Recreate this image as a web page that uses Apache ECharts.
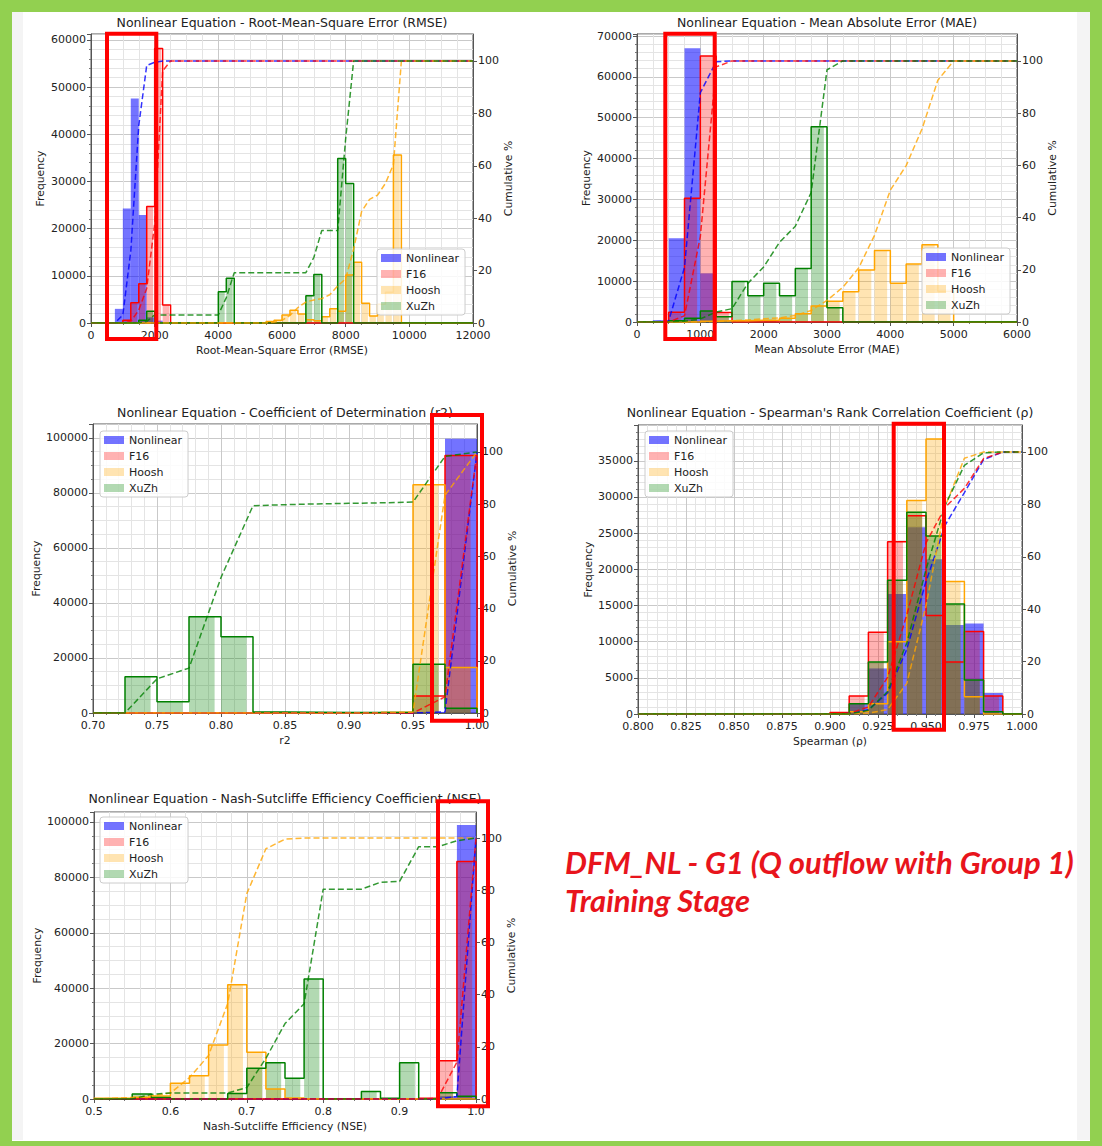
<!DOCTYPE html>
<html>
<head>
<meta charset="utf-8">
<script src="https://cdn.jsdelivr.net/npm/echarts@6/dist/echarts.min.js"></script>
<style>
html,body{margin:0;padding:0;background:#fff;}
#chart{width:1102px;height:1146px;}
</style>
</head>
<body>
<div id="chart"></div>
<script>
// ---------- Histogram bins: [bin left edge, count] ----------
// RMSE (bin width 250)
const rmseBinWidth = 250;
const rmseNonlinear = [[750,3000],[1000,24300],[1250,47600],[1500,22900],[1750,1200],[2000,500]];
const rmseF16 = [[1000,600],[1250,4300],[1500,8300],[1750,24700],[2000,58200],[2250,3800]];
const rmseHoosh = [[5500,300],[5750,600],[6000,1700],[6250,2700],[6500,1900],[6750,700],[7000,500],[7250,1300],[7500,3000],[7750,2500],[8000,10200],[8250,12900],[8500,4200],[8750,1500],[9000,4000],[9250,6500],[9500,35600]];
const rmseXuZh = [[1500,600],[1750,2500],[4000,6600],[4250,9500],[6750,5800],[7000,10300],[7750,34900],[8000,29600]];
// cumulative % at bin edges
const rmseNonlinearCum = [[0,0],[750,0],[1000,3],[1250,27.4],[1500,75.3],[1750,98.3],[2000,99.5],[2250,100],[12000,100]];
const rmseF16Cum = [[0,0],[1000,0],[1250,0.6],[1500,4.9],[1750,13.2],[2000,37.9],[2250,96.2],[2500,100],[12000,100]];
const rmseHooshCum = [[0,0],[5500,0],[5750,0.3],[6000,1],[6250,2.9],[6500,5.9],[6750,8],[7000,8.8],[7250,9.3],[7500,10.8],[7750,14.1],[8000,16.9],[8250,28.2],[8500,42.5],[8750,47.2],[9000,48.8],[9250,53.3],[9500,60.5],[9750,100],[12000,100]];
const rmseXuZhCum = [[0,0],[1500,0],[1750,0.6],[2000,3.1],[4000,3.1],[4250,9.7],[4500,19.2],[6750,19.2],[7000,25],[7250,35.3],[7750,35.3],[8000,70.3],[8250,100],[12000,100]];

// MAE (bin width 250)
const maeBinWidth = 250;
const maeNonlinear = [[250,450],[500,20500],[750,67000],[1000,11900],[1250,300]];
const maeF16 = [[500,2400],[750,30300],[1000,65100],[1250,2300]];
const maeHoosh = [[1000,200],[1250,300],[1500,300],[1750,400],[2000,400],[2250,900],[2500,2000],[2750,3900],[3000,5100],[3250,7400],[3500,12700],[3750,17500],[4000,9500],[4250,14200],[4500,18900],[4750,7500]];
const maeXuZh = [[500,300],[750,900],[1000,2700],[1250,1300],[1500,9900],[1750,6400],[2000,9500],[2250,6400],[2500,13100],[2750,47800],[3000,3500]];
const maeNonlinearCum = [[0,0],[250,0],[500,0.4],[750,20.9],[1000,87.8],[1250,99.7],[1500,100],[6000,100]];
const maeF16Cum = [[0,0],[500,0],[750,2.4],[1000,32.7],[1250,97.7],[1500,100],[6000,100]];
const maeHooshCum = [[0,0],[1000,0],[1250,0.2],[1500,0.5],[1750,0.8],[2000,1.2],[2250,1.6],[2500,2.5],[2750,4.4],[3000,8.3],[3250,13.3],[3500,20.7],[3750,33.2],[4000,50.5],[4250,59.9],[4500,73.9],[4750,92.6],[5000,100],[6000,100]];
const maeXuZhCum = [[0,0],[500,0],[750,0.3],[1000,1.2],[1250,3.8],[1500,5.1],[1750,14.8],[2000,21.1],[2250,30.5],[2500,36.7],[2750,49.6],[3000,96.6],[3250,100],[6000,100]];

// r2 (bin width 0.025)
const r2BinWidth = 0.025;
const r2Nonlinear = [[0.95,400],[0.975,99600]];
const r2F16 = [[0.95,6200],[0.975,93600]];
const r2Hoosh = [[0.925,300],[0.95,82900],[0.975,16500]];
const r2XuZh = [[0.725,13200],[0.75,4100],[0.775,35000],[0.8,27700],[0.825,400],[0.85,300],[0.875,200],[0.9,200],[0.925,300],[0.95,17700],[0.975,1700]];
const r2NonlinearCum = [[0.7,0],[0.95,0],[0.975,0.4],[1,100]];
const r2F16Cum = [[0.7,0],[0.95,0],[0.975,6.2],[1,100]];
const r2HooshCum = [[0.7,0],[0.925,0],[0.95,0.3],[0.975,83.4],[1,100]];
const r2XuZhCum = [[0.7,0],[0.725,0],[0.75,13.1],[0.775,17.2],[0.8,51.9],[0.825,79.4],[0.85,79.8],[0.875,80.1],[0.9,80.3],[0.925,80.5],[0.95,80.8],[0.975,98.3],[1,100]];

// Spearman (bin width 0.01)
const spBinWidth = 0.01;
const spNonlinear = [[0.9,200],[0.91,1400],[0.92,6300],[0.93,16600],[0.94,25800],[0.95,21400],[0.96,12300],[0.97,12500],[0.98,2900]];
const spF16 = [[0.9,200],[0.91,2500],[0.92,11300],[0.93,23800],[0.94,27400],[0.95,13600],[0.96,7200],[0.97,11400],[0.98,2500]];
const spHoosh = [[0.91,300],[0.92,1400],[0.93,10000],[0.94,29500],[0.95,38000],[0.96,18300],[0.97,2400]];
const spXuZh = [[0.91,1400],[0.92,7200],[0.93,18500],[0.94,27900],[0.95,24600],[0.96,15200],[0.97,4700],[0.98,300]];
const spNonlinearCum = [[0.8,0],[0.9,0],[0.91,0.2],[0.92,1.6],[0.93,8],[0.94,24.7],[0.95,50.6],[0.96,72.1],[0.97,84.5],[0.98,97.1],[0.99,100],[1,100]];
const spF16Cum = [[0.8,0],[0.9,0],[0.91,0.2],[0.92,2.7],[0.93,14],[0.94,37.8],[0.95,65.3],[0.96,78.9],[0.97,86.1],[0.98,97.5],[0.99,100],[1,100]];
const spHooshCum = [[0.8,0],[0.91,0],[0.92,0.3],[0.93,1.7],[0.94,11.7],[0.95,41.3],[0.96,79.3],[0.97,97.6],[0.98,100],[1,100]];
const spXuZhCum = [[0.8,0],[0.91,0],[0.92,1.4],[0.93,8.6],[0.94,27.1],[0.95,55.1],[0.96,79.7],[0.97,94.9],[0.98,99.7],[0.99,100],[1,100]];

// NSE (bin width 0.025)
const nseBinWidth = 0.025;
const nseNonlinear = [[0.95,1000],[0.975,98900]];
const nseF16 = [[0.925,300],[0.95,13800],[0.975,85700]];
const nseHoosh = [[0.5,300],[0.525,300],[0.55,600],[0.575,1100],[0.6,5700],[0.625,8400],[0.65,19500],[0.675,41200],[0.7,16900],[0.725,3600],[0.75,400]];
const nseXuZh = [[0.55,1800],[0.575,500],[0.675,2000],[0.7,11100],[0.725,13100],[0.75,7500],[0.775,43300],[0.85,2700],[0.875,300],[0.9,13100],[0.95,2300],[0.975,1000]];
const nseNonlinearCum = [[0.5,0],[0.95,0],[0.975,1],[1,100]];
const nseF16Cum = [[0.5,0],[0.925,0],[0.95,0.3],[0.975,14.1],[1,100]];
const nseHooshCum = [[0.5,0],[0.525,0.3],[0.55,0.6],[0.575,1.2],[0.6,2.3],[0.625,8.2],[0.65,16.7],[0.675,36.6],[0.7,78.7],[0.725,95.9],[0.75,99.6],[0.775,100],[1,100]];
const nseXuZhCum = [[0.5,0],[0.55,0],[0.575,1.8],[0.6,2.3],[0.675,2.3],[0.7,4.4],[0.725,15.6],[0.75,28.9],[0.775,36.5],[0.8,80.4],[0.85,80.4],[0.875,83.1],[0.9,83.4],[0.925,96.7],[0.95,96.7],[0.975,99],[1,100]];

const methodNames = ['Nonlinear', 'F16', 'Hoosh', 'XuZh'];

// ---------- styling ----------
const lineColors = ['#0000ff', '#ff0000', '#ffa500', '#008000'];
const fillColors = ['rgba(0,0,255,0.55)', 'rgba(255,0,0,0.3)', 'rgba(255,165,0,0.3)', 'rgba(0,128,0,0.3)'];
const fillFraction = [1, 0.8, 0.8, 0.8];
const hasOutline = [false, true, true, true];
const FONT = 'DejaVu Sans';

const panels = [
  { title: 'Nonlinear Equation - Root-Mean-Square Error (RMSE)', xName: 'Root-Mean-Square Error (RMSE)',
    box: { left: 91, top: 34, width: 382, height: 289 }, titleTop: 16,
    x: { min: 0, max: 12000, interval: 2000, minor: 4, digits: 0 },
    y: { max: 61270, interval: 10000, minor: 5 }, cumMax: 110.3,
    binWidth: rmseBinWidth, hist: [rmseNonlinear, rmseF16, rmseHoosh, rmseXuZh],
    cum: [rmseNonlinearCum, rmseF16Cum, rmseHooshCum, rmseXuZhCum],
    legend: { left: 377, top: 249 }, yNameGap: 45, rName: true, rNameGap: 29 },
  { title: 'Nonlinear Equation - Mean Absolute Error (MAE)', xName: 'Mean Absolute Error (MAE)',
    box: { left: 637, top: 34, width: 380, height: 288 }, titleTop: 16,
    x: { min: 0, max: 6000, interval: 1000, minor: 4, digits: 0 },
    y: { max: 70490, interval: 10000, minor: 5 }, cumMax: 110.3,
    binWidth: maeBinWidth, hist: [maeNonlinear, maeF16, maeHoosh, maeXuZh],
    cum: [maeNonlinearCum, maeF16Cum, maeHooshCum, maeXuZhCum],
    legend: { left: 922, top: 248 }, yNameGap: 45, rName: true, rNameGap: 27 },
  { title: 'Nonlinear Equation - Coefficient of Determination (r2)', xName: 'r2',
    box: { left: 93, top: 424, width: 384, height: 289 }, titleTop: 406,
    x: { min: 0.7, max: 1.0, interval: 0.05, minor: 5, digits: 2 },
    y: { max: 105000, interval: 20000, minor: 4 }, cumMax: 110.7,
    binWidth: r2BinWidth, hist: [r2Nonlinear, r2F16, r2Hoosh, r2XuZh],
    cum: [r2NonlinearCum, r2F16Cum, r2HooshCum, r2XuZhCum],
    legend: { left: 100, top: 431 }, yNameGap: 51, rName: true, rNameGap: 29 },
  { title: "Nonlinear Equation - Spearman's Rank Correlation Coefficient (ρ)", xName: 'Spearman (ρ)',
    box: { left: 638, top: 425, width: 384, height: 289 }, titleTop: 406,
    x: { min: 0.8, max: 1.0, interval: 0.025, minor: 5, digits: 3 },
    y: { max: 39950, interval: 5000, minor: 5 }, cumMax: 110.3,
    binWidth: spBinWidth, hist: [spNonlinear, spF16, spHoosh, spXuZh],
    cum: [spNonlinearCum, spF16Cum, spHooshCum, spXuZhCum],
    legend: { left: 645, top: 431 }, yNameGap: 44, rName: false, rNameGap: 29 },
  { title: 'Nonlinear Equation - Nash-Sutcliffe Efficiency Coefficient (NSE)', xName: 'Nash-Sutcliffe Efficiency (NSE)',
    box: { left: 94, top: 812, width: 382, height: 287 }, titleTop: 792,
    x: { min: 0.5, max: 1.0, interval: 0.1, minor: 5, digits: 1 },
    y: { max: 103600, interval: 20000, minor: 4 }, cumMax: 110,
    binWidth: nseBinWidth, hist: [nseNonlinear, nseF16, nseHoosh, nseXuZh],
    cum: [nseNonlinearCum, nseF16Cum, nseHooshCum, nseXuZhCum],
    legend: { left: 100, top: 817 }, yNameGap: 51, rName: true, rNameGap: 30 }
];

// step outline through the bin tops, dropping to zero across gaps
function outlinePoints(bins, w, xmin, xmax) {
  const pts = [[xmin, 0]];
  let prevRight = null;
  bins.forEach(([left, c]) => {
    if (prevRight !== null && Math.abs(prevRight - left) > w * 1e-3) pts.push([prevRight, 0]);
    pts.push([left, c]);
    prevRight = left + w;
  });
  pts.push([prevRight, 0]);
  pts.push([xmax, 0]);
  return pts;
}

function makeFill(w, frac, color) {
  return function (params, api) {
    const left = api.value(0), c = api.value(1);
    const a = api.coord([left, c]);
    const b = api.coord([left + w * frac, 0]);
    return {
      type: 'rect',
      shape: { x: a[0], y: a[1], width: b[0] - a[0], height: b[1] - a[1] },
      style: { fill: color }
    };
  };
}

const grids = [], xAxes = [], yAxes = [], series = [], titles = [], legends = [];
const axisColor = '#555';
const majorGrid = '#c9c9c9';
const minorGrid = '#e4e4e4';

panels.forEach((p, gi) => {
  grids.push(Object.assign({ show: true, borderColor: axisColor, borderWidth: 1, backgroundColor: 'transparent' }, p.box));
  titles.push({
    text: p.title, left: p.box.left + p.box.width / 2, top: p.titleTop, textAlign: 'center', padding: 0,
    textStyle: { fontSize: 12.5, fontWeight: 'normal', color: '#222', fontFamily: FONT }
  });
  xAxes.push({
    type: 'value', gridIndex: gi, min: p.x.min, max: p.x.max, interval: p.x.interval,
    name: p.xName, nameLocation: 'middle', nameGap: 22,
    nameTextStyle: { fontSize: 10.8, color: '#222', fontFamily: FONT },
    axisLine: { show: true, onZero: false, lineStyle: { color: axisColor } },
    axisTick: { show: true, length: 4, lineStyle: { color: axisColor } },
    minorTick: { show: true, splitNumber: p.x.minor, length: 2, lineStyle: { color: '#777' } },
    splitLine: { show: true, lineStyle: { color: majorGrid, width: 1 } },
    minorSplitLine: { show: true, lineStyle: { color: minorGrid, width: 1 } },
    axisLabel: { fontSize: 11, color: '#222', margin: 7, fontFamily: FONT,
      formatter: v => Number(v).toFixed(p.x.digits) }
  });
  yAxes.push({
    type: 'value', gridIndex: gi, position: 'left', min: 0, max: p.y.max, interval: p.y.interval,
    name: 'Frequency', nameLocation: 'middle', nameGap: p.yNameGap, nameRotate: 90,
    nameTextStyle: { fontSize: 10.8, color: '#222', fontFamily: FONT },
    axisLine: { show: true, lineStyle: { color: axisColor } },
    axisTick: { show: true, length: 4, lineStyle: { color: axisColor } },
    minorTick: { show: true, splitNumber: p.y.minor, length: 2, lineStyle: { color: '#777' } },
    splitLine: { show: true, lineStyle: { color: majorGrid, width: 1 } },
    minorSplitLine: { show: true, lineStyle: { color: minorGrid, width: 1 } },
    axisLabel: { fontSize: 11, color: '#222', margin: 5, showMaxLabel: false, fontFamily: FONT,
      formatter: v => String(Math.round(v)) }
  });
  yAxes.push({
    type: 'value', gridIndex: gi, position: 'right', min: 0, max: p.cumMax, interval: 20,
    name: p.rName ? 'Cumulative %' : '', nameLocation: 'middle', nameGap: p.rNameGap, nameRotate: 90,
    nameTextStyle: { fontSize: 10.8, color: '#222', fontFamily: FONT },
    axisLine: { show: true, lineStyle: { color: axisColor } },
    axisTick: { show: true, length: 4, lineStyle: { color: axisColor } },
    splitLine: { show: false },
    axisLabel: { fontSize: 11, color: '#222', margin: 5, showMaxLabel: false, fontFamily: FONT,
      formatter: v => String(Math.round(v)) }
  });
  legends.push({
    left: p.legend.left, top: p.legend.top, orient: 'vertical', icon: 'rect',
    itemWidth: 20, itemHeight: 8, itemGap: 4, padding: [3, 6, 3, 4],
    backgroundColor: 'rgba(255,255,255,0.85)', borderColor: '#cccccc', borderWidth: 1, borderRadius: 3,
    textStyle: { fontSize: 11, color: '#222', lineHeight: 12, fontFamily: FONT },
    selectedMode: false,
    data: methodNames.map((n, mi) => ({ name: n, itemStyle: { color: fillColors[mi], borderWidth: 0 } }))
  });

  methodNames.forEach((name, mi) => {
    const bins = p.hist[mi];
    series.push({
      type: 'custom', name, xAxisIndex: gi, yAxisIndex: 2 * gi, data: bins,
      encode: { x: 0, y: 1 }, silent: true, clip: true, z: 2,
      itemStyle: { color: fillColors[mi] },
      renderItem: makeFill(p.binWidth, fillFraction[mi], fillColors[mi])
    });
    if (hasOutline[mi]) {
      series.push({
        type: 'line', name: name + ' outline', xAxisIndex: gi, yAxisIndex: 2 * gi,
        data: outlinePoints(bins, p.binWidth, p.x.min, p.x.max), step: 'end',
        symbol: 'none', silent: true, z: 3,
        lineStyle: { color: lineColors[mi], width: 1.5 }
      });
    }
  });
  methodNames.forEach((name, mi) => {
    series.push({
      type: 'line', name: name + ' cumulative', xAxisIndex: gi, yAxisIndex: 2 * gi + 1,
      data: p.cum[mi], symbol: 'none', silent: true, z: 4,
      lineStyle: { color: lineColors[mi], width: 1.5, type: [6, 3], opacity: 0.8 }
    });
  });
});

// page frame, highlight boxes and caption
const frameGreen = '#92d050';
const highlight = { stroke: '#ff0000', lineWidth: 4, fill: 'none' };
const captionFont = 'italic bold 31px Lato';
const graphics = [
  { type: 'rect', shape: { x: 12, y: 12, width: 11, height: 1128 }, style: { fill: '#f4f4f4' }, z: 1 },
  { type: 'rect', shape: { x: 1077, y: 12, width: 13, height: 1128 }, style: { fill: '#f4f4f4' }, z: 1 },
  { type: 'rect', shape: { x: 0, y: 0, width: 1102, height: 12 }, style: { fill: frameGreen }, z: 200 },
  { type: 'rect', shape: { x: 0, y: 0, width: 12, height: 1146 }, style: { fill: frameGreen }, z: 200 },
  { type: 'rect', shape: { x: 1090, y: 0, width: 12, height: 1146 }, style: { fill: frameGreen }, z: 200 },
  { type: 'rect', shape: { x: 0, y: 1141, width: 1102, height: 5 }, style: { fill: frameGreen }, z: 200 },
  { type: 'rect', shape: { x: 107, y: 33.7, width: 49.3, height: 305.3 }, style: highlight, z: 150 },
  { type: 'rect', shape: { x: 665.3, y: 33.7, width: 49.4, height: 305.3 }, style: highlight, z: 150 },
  { type: 'rect', shape: { x: 432, y: 415, width: 50, height: 305.7 }, style: highlight, z: 150 },
  { type: 'rect', shape: { x: 893.7, y: 423.7, width: 50.3, height: 306 }, style: highlight, z: 150 },
  { type: 'rect', shape: { x: 438, y: 801.3, width: 50, height: 305 }, style: highlight, z: 150 },
  { type: 'text', left: 565, top: 846, z: 150,
    style: { text: 'DFM_NL - G1 (Q outflow with Group 1)', font: captionFont, fill: '#e8141c' } },
  { type: 'text', left: 565, top: 884, z: 150,
    style: { text: 'Training Stage', font: captionFont, fill: '#e8141c' } }
];

const chart = echarts.init(document.getElementById('chart'), null, { renderer: 'svg', width: 1102, height: 1146 });
chart.setOption({
  animation: false,
  backgroundColor: '#ffffff',
  textStyle: { fontFamily: FONT },
  title: titles,
  legend: legends,
  grid: grids,
  xAxis: xAxes,
  yAxis: yAxes,
  series: series,
  graphic: graphics
});
</script>
</body>
</html>
